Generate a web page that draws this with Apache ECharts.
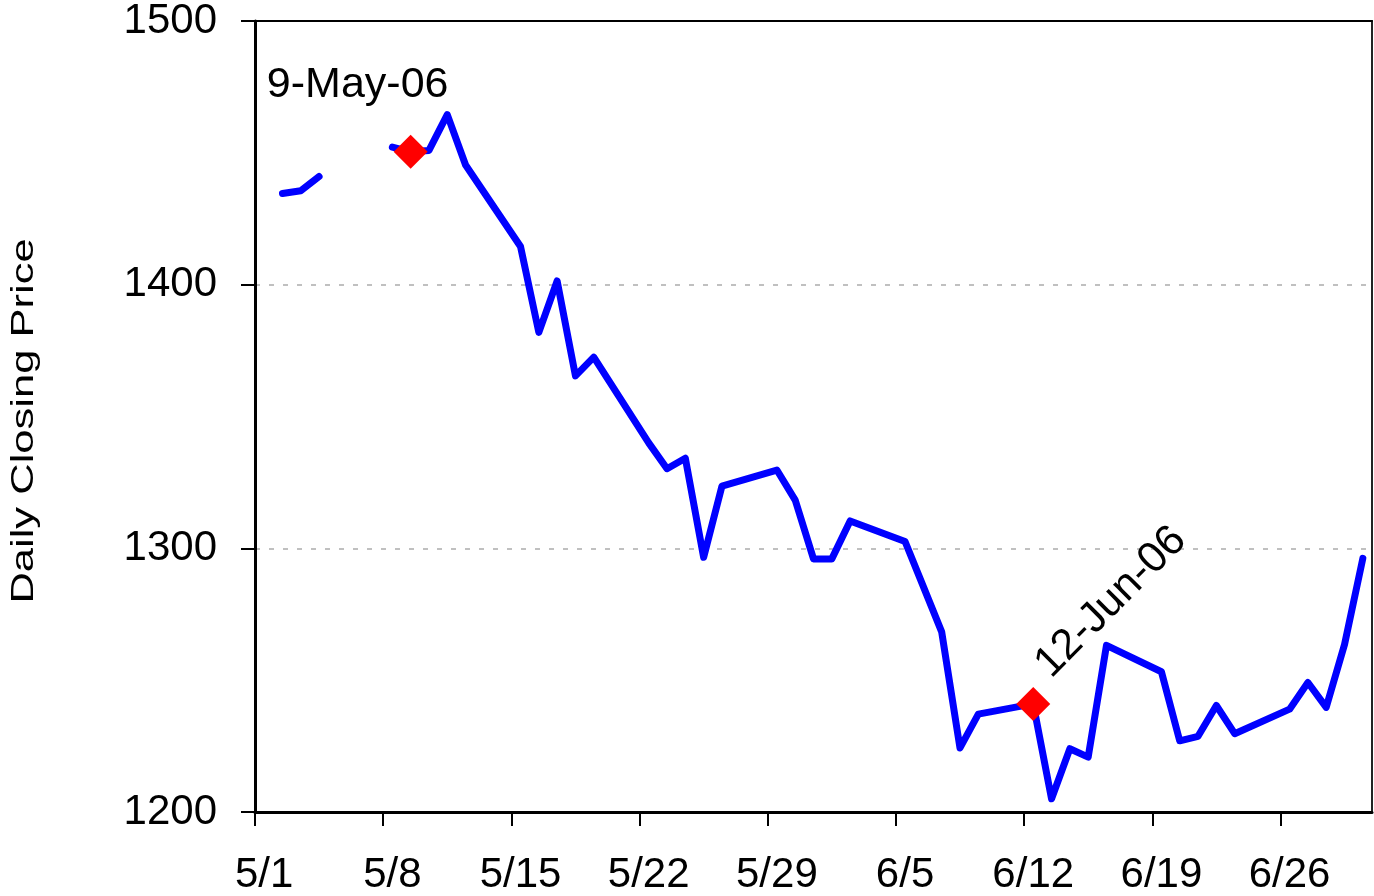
<!DOCTYPE html>
<html>
<head>
<meta charset="utf-8">
<script src="https://cdn.jsdelivr.net/npm/echarts@6/dist/echarts.min.js"></script>
<style>
  html, body { margin: 0; padding: 0; background: #fff; }
  #chart { width: 1374px; height: 896px; }
</style>
</head>
<body>
<div id="chart"></div>
<script>
// ---- data (year 2006) ----
const dates = ['5/2','5/3','5/4','5/5','5/8','5/9','5/10','5/11','5/12',
  '5/15','5/16','5/17','5/18','5/19','5/22','5/23','5/24','5/25','5/26',
  '5/29','5/30','5/31','6/1','6/2','6/5','6/6','6/7','6/8','6/9',
  '6/12','6/13','6/14','6/15','6/16','6/19','6/20','6/21','6/22','6/23',
  '6/26','6/27','6/28','6/29','6/30'];
const closes = [1434.6,1435.6,1441.0,null,1452.2,1450.4,1450.9,1464.5,1445.4,
  1414.5,1381.9,1401.4,1365.4,1372.5,1340.0,1330.2,1334.2,1296.6,1323.6,
  1329.7,1318.3,1296.0,1296.0,1310.4,1302.6,1285.5,1268.3,1224.3,1237.1,
  1241.0,1205.0,1224.0,1220.8,1263.2,1253.2,1227.0,1228.7,1240.4,1229.7,
  1239.0,1249.1,1239.7,1263.5,1296.2];
const tickLabels = ['5/1','5/8','5/15','5/22','5/29','6/5','6/12','6/19','6/26'];
const axisStart = '5/1';
const axisEnd = '7/1';
const yTicks = [1200, 1300, 1400, 1500];
const highlightDates = ['5/9', '6/12'];
const highlightLabels = ['9-May-06', '12-Jun-06'];
const yTitle = 'Daily Closing Price';

// ---- helpers ----
function dayIndex(s) {
  const [m, d] = s.split('/').map(Number);
  const [m0, d0] = axisStart.split('/').map(Number);
  return Math.round((Date.UTC(2006, m - 1, d) - Date.UTC(2006, m0 - 1, d0)) / 86400000);
}
const FONT = 'Liberation Sans, Arial, sans-serif';

const lineData = dates.map((d, i) => [dayIndex(d) + 0.5, closes[i] == null ? '-' : closes[i]]);
const labelPos = tickLabels.map(t => dayIndex(t) + 0.5);
// offsets are expressed in the label's own (rotated) frame
const labelStyles = [
  { offset: [-53, -67], rotate: 0 },
  { offset: [127, -17], rotate: 45 }
];
const markData = highlightDates.map((d, i) => ({
  name: highlightLabels[i],
  value: [dayIndex(d) + 0.5, closes[dates.indexOf(d)]],
  label: {
    show: true,
    formatter: '{b}',
    position: 'inside',
    align: 'center',
    verticalAlign: 'middle',
    offset: labelStyles[i].offset,
    rotate: labelStyles[i].rotate,
    fontSize: 43,
    fontFamily: FONT,
    color: '#000'
  }
}));

const xMin = dayIndex(axisStart), xMax = dayIndex(axisEnd);
const yMin = yTicks[0], yMax = yTicks[yTicks.length - 1];

const chart = echarts.init(document.getElementById('chart'), null, { renderer: 'canvas' });
chart.setOption({
  animation: false,
  backgroundColor: '#fff',
  grid: { left: 255, right: 2, top: 20, bottom: 84, show: false },
  xAxis: [{
    type: 'value',
    min: xMin, max: xMax,
    axisLine: { show: true, onZero: false, lineStyle: { color: '#000', width: 3 } },
    axisTick: {
      show: true, inside: false, length: 14,
      customValues: tickLabels.map(dayIndex),
      lineStyle: { color: '#000', width: 2 }
    },
    axisLabel: {
      show: true,
      customValues: labelPos,
      formatter: v => {
        const k = labelPos.findIndex(p => Math.abs(p - v) < 1e-6);
        return k >= 0 ? tickLabels[k] : '';
      },
      fontSize: 42, fontFamily: FONT, color: '#000', margin: 42
    },
    splitLine: { show: false }
  }, {
    type: 'value', position: 'top',
    min: xMin, max: xMax,
    axisLine: { show: true, onZero: false, lineStyle: { color: '#000', width: 2 } },
    axisTick: { show: false }, axisLabel: { show: false }, splitLine: { show: false }
  }],
  yAxis: [{
    type: 'value',
    min: yMin, max: yMax, interval: 100,
    axisLine: { show: true, onZero: false, lineStyle: { color: '#000', width: 3 } },
    axisTick: { show: true, inside: false, length: 14, lineStyle: { color: '#000', width: 2 } },
    axisLabel: {
      fontSize: 42, fontFamily: FONT, color: '#000', margin: 38,
      formatter: v => String(v)
    },
    splitLine: { show: true, lineStyle: { color: '#C0C0C0', width: 2, type: [5, 9] } }
  }, {
    type: 'value', position: 'right',
    min: yMin, max: yMax,
    axisLine: { show: true, onZero: false, lineStyle: { color: '#222', width: 2 } },
    axisTick: { show: false }, axisLabel: { show: false }, splitLine: { show: false }
  }],
  graphic: [{
    type: 'text',
    x: 24, y: 421,
    rotation: Math.PI / 2,
    scaleX: 1.36,
    style: {
      text: yTitle,
      fontSize: 32,
      fontFamily: FONT,
      fill: '#000',
      textAlign: 'center',
      textVerticalAlign: 'middle'
    }
  }],
  series: [
    {
      type: 'line',
      data: lineData,
      showSymbol: false,
      connectNulls: false,
      lineStyle: { color: '#0000FF', width: 7, cap: 'round', join: 'round' },
      z: 2
    },
    {
      type: 'scatter',
      data: markData,
      symbol: 'diamond',
      symbolSize: 34,
      itemStyle: { color: '#FF0000', opacity: 1 },
      z: 3
    }
  ]
});
</script>
</body>
</html>
